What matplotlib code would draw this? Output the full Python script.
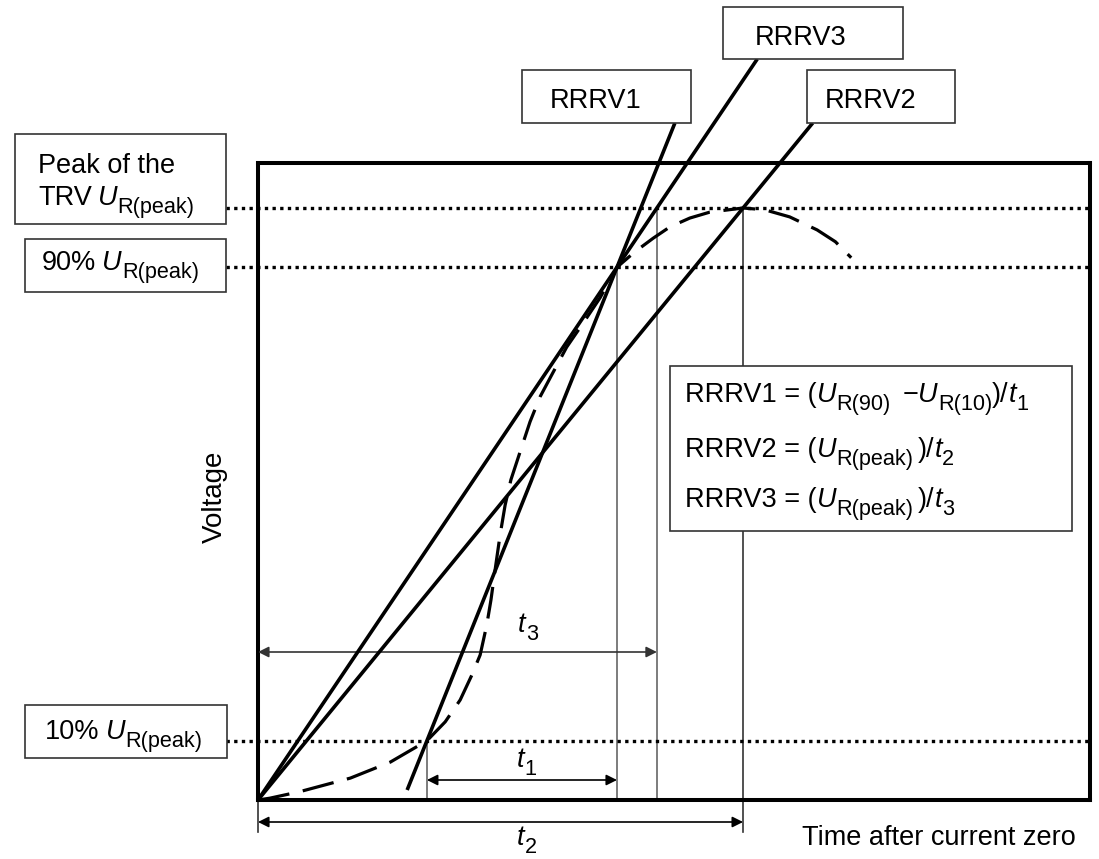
import matplotlib
matplotlib.use("Agg")
import matplotlib.pyplot as plt
from matplotlib.patches import Rectangle

plt.rcParams["font.family"] = ["Liberation Sans", "DejaVu Sans"]

# ---------------------------------------------------------------------------
# TRV waveform: time after current zero (arbitrary units) and voltage (p.u. of peak)
trv_time = [0.00, 0.14, 0.50, 1.11, 1.59, 2.03, 2.25, 2.43, 2.57, 2.67, 2.75,
            2.80, 2.85, 2.91, 2.97, 3.04, 3.15, 3.27, 3.39, 3.53, 3.71, 3.91,
            4.11, 4.315, 4.53, 4.75, 4.95, 5.19, 5.43, 5.83, 6.09, 6.39, 6.72,
            6.94, 7.13]
trv_volt = [0.000, 0.003, 0.014, 0.037, 0.064, 0.100, 0.132, 0.169, 0.211,
            0.245, 0.296, 0.338, 0.389, 0.448, 0.498, 0.541, 0.588, 0.639,
            0.681, 0.718, 0.765, 0.806, 0.848, 0.900, 0.926, 0.949, 0.968,
            0.983, 0.993, 1.000, 0.997, 0.985, 0.963, 0.943, 0.916]

# Reference levels (fraction of U_R(peak))
level_values = [1.0, 0.9, 0.1]

# Characteristic instants
t_10 = 2.03     # TRV crosses 10 %
t_90 = 4.315    # TRV crosses 90 %
t_peak = 5.83   # TRV peak

# Derived quantities
t_3 = t_90 / level_values[1]          # RRRV3 tangent from origin reaches the peak level
slope_1 = (level_values[1] - level_values[2]) / (t_90 - t_10)
slope_2 = level_values[0] / t_peak
slope_3 = level_values[1] / t_90

# ---------------------------------------------------------------------------
W, H = 1099, 859
fig = plt.figure(figsize=(W / 100, H / 100), dpi=100)
fig.patch.set_facecolor("white")

# plot frame in pixels
FX0, FX1, FY0, FY1 = 258, 1090, 163, 800
PEAK_Y = 208
ax = fig.add_axes([FX0 / W, 1 - FY1 / H, (FX1 - FX0) / W, (FY1 - FY0) / H])
ax.set_xlim(0, 10)
ax.set_ylim(0, (FY1 - FY0) / (FY1 - PEAK_Y))
ax.set_xticks([])
ax.set_yticks([])
for s in ax.spines.values():
    s.set_linewidth(2.9)
    s.set_color("black")

inv = ax.transData.inverted()


def to_data(px, py):
    return inv.transform((px, H - py))


# overlay in pixel coordinates for boxes and labels
ov = fig.add_axes([0, 0, 1, 1], zorder=5)
ov.set_xlim(0, W)
ov.set_ylim(H, 0)
ov.axis("off")
renderer = fig.canvas.get_renderer()

FS = 19.5
SUB = 0.8


def rich(x, y, parts, fs=FS, ha="left"):
    """Draw a run of text pieces: n = normal, i = italic, s = subscript, g = gap (px)."""
    items = []
    cx = x
    for txt, kind in parts:
        if kind == "g":
            cx += txt
            continue
        size = fs * SUB if kind == "s" else fs
        dy = fs * 0.40 if kind == "s" else 0
        style = "italic" if kind == "i" else "normal"
        t = ov.text(cx, y + dy, txt, fontsize=size, style=style,
                    ha="left", va="baseline", zorder=7)
        cx += t.get_window_extent(renderer).width
        items.append(t)
    if ha == "center":
        shift = (cx - x) / 2
        for t in items:
            t.set_x(t.get_position()[0] - shift)


# dotted reference levels
x_left_dot = to_data(226, 0)[0]
for lv in level_values:
    ax.plot([x_left_dot, 10], [lv, lv], color="black", lw=2.4,
            linestyle=(0, (1, 1.3)), clip_on=False, zorder=3)

# thin vertical markers
v_below = to_data(0, 832)[1]
vcol = "#666666"
ax.plot([t_10, t_10], [0, level_values[2]], color=vcol, lw=1.2, zorder=2)
ax.plot([t_90, t_90], [0, level_values[1]], color=vcol, lw=1.2, zorder=2)
ax.plot([t_3, t_3], [0, level_values[0]], color=vcol, lw=1.2, zorder=2)
ax.plot([t_peak, t_peak], [v_below, level_values[0]], color="#333333", lw=1.2,
        clip_on=False, zorder=2)
ax.plot([0, 0], [v_below, 0], color="#333333", lw=1.2, clip_on=False, zorder=2)

# TRV curve
ax.plot(trv_time, trv_volt, color="black", lw=2.3, linestyle=(0, (10, 4.3)),
        zorder=4, clip_on=False)

# RRRV lines
v_box12 = to_data(0, 123)[1]
v_box3 = to_data(0, 59)[1]
v_start1 = to_data(0, 790)[1]
ts1 = t_90 + (v_start1 - level_values[1]) / slope_1
te1 = t_90 + (v_box12 - level_values[1]) / slope_1
ax.plot([ts1, te1], [v_start1, v_box12], color="black", lw=2.6, clip_on=False,
        zorder=4, solid_capstyle="butt")
ax.plot([0, v_box12 / slope_2], [0, v_box12], color="black", lw=2.6,
        clip_on=False, zorder=4, solid_capstyle="butt")
ax.plot([0, v_box3 / slope_3], [0, v_box3], color="black", lw=2.6,
        clip_on=False, zorder=4, solid_capstyle="butt")


# time-interval arrows
def dim_arrow(x0, x1, v, color="black"):
    ax.annotate("", xy=(x1, v), xytext=(x0, v),
                arrowprops=dict(arrowstyle="<|-|>", lw=1.2, color=color,
                                mutation_scale=16, shrinkA=0, shrinkB=0),
                annotation_clip=False, zorder=3)


dim_arrow(0, t_3, to_data(0, 652)[1], "#333333")
dim_arrow(t_10, t_90, to_data(0, 780)[1])
dim_arrow(0, t_peak, to_data(0, 822)[1])

rich(528, 632, [("t", "i"), ("3", "s")], ha="center")
rich(527, 767, [("t", "i"), ("1", "s")], ha="center")
rich(527, 845, [("t", "i"), ("2", "s")], ha="center")


# label boxes
def box(x0, y0, x1, y1):
    ov.add_patch(Rectangle((x0, y0), x1 - x0, y1 - y0, facecolor="white",
                           edgecolor="#333333", lw=1.2, zorder=6))


box(15, 134, 226, 224)
rich(38, 173, [("Peak of the", "n")])
rich(38, 205, [("TRV", "n"), (6, "g"), ("U", "i"), ("R(peak)", "s")])

box(25, 239, 226, 292)
rich(42, 270, [("90%", "n"), (6, "g"), ("U", "i"), ("R(peak)", "s")])

box(25, 705, 227, 758)
rich(45, 739, [("10%", "n"), (6, "g"), ("U", "i"), ("R(peak)", "s")])

box(522, 70, 691, 123)
rich(550, 108, [("RRRV1", "n")])
box(723, 7, 903, 59)
rich(755, 45, [("RRRV3", "n")])
box(807, 70, 955, 123)
rich(825, 108, [("RRRV2", "n")])

box(670, 366, 1072, 531)
FF = 19.5
rich(685, 402, [("RRRV1 = (", "n"), ("U", "i"), ("R(90)", "s"), (12, "g"),
                ("\u2212", "n"), ("U", "i"), ("R(10)", "s"), (")/", "n"),
                ("t", "i"), ("1", "s")], fs=FF)
rich(685, 457, [("RRRV2 = (", "n"), ("U", "i"), ("R(peak)", "s"), (5, "g"),
                (")/", "n"), ("t", "i"), ("2", "s")], fs=FF)
rich(685, 507, [("RRRV3 = (", "n"), ("U", "i"), ("R(peak)", "s"), (5, "g"),
                (")/", "n"), ("t", "i"), ("3", "s")], fs=FF)

# axis titles
ov.text(215, 497, "Voltage", fontsize=20, rotation=90, ha="center",
        va="center", zorder=7)
rich(802, 845, [("Time after current zero", "n")])

fig.savefig("out.png", dpi=100, facecolor="white")
